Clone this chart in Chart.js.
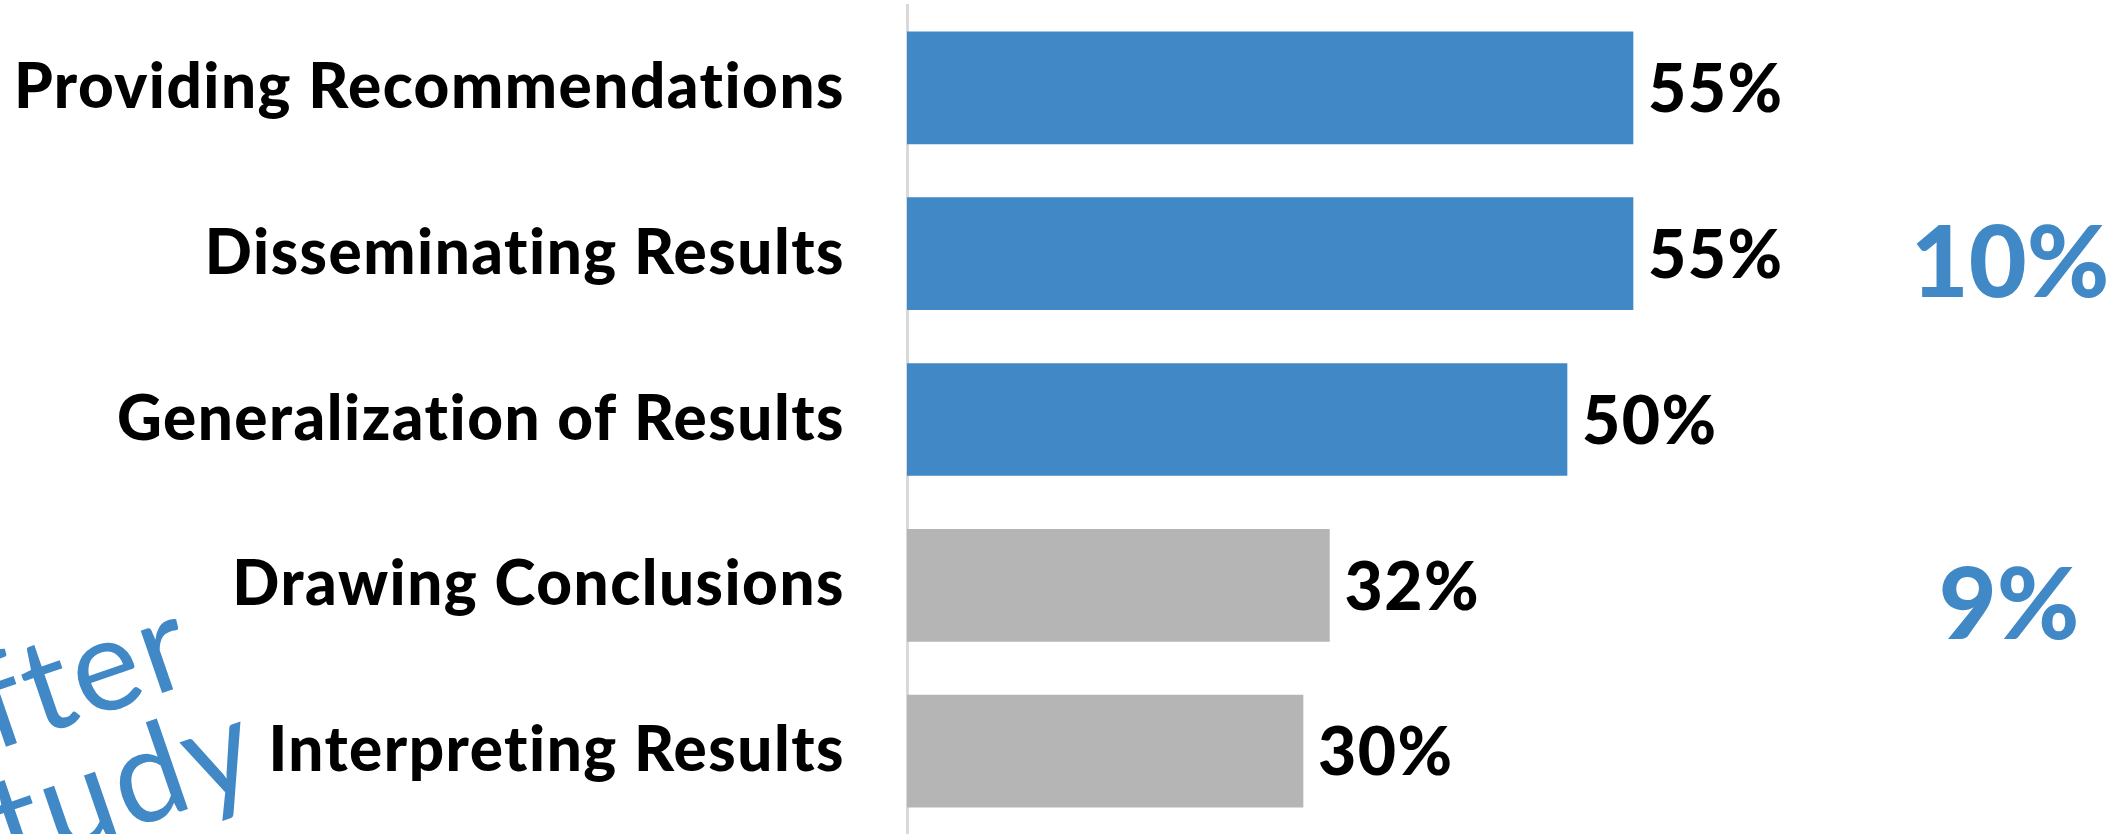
<!DOCTYPE html>
<html>
<head>
<meta charset="utf-8">
<script src="https://cdn.jsdelivr.net/npm/chart.js@4.4.1/dist/chart.umd.min.js"></script>
<style>
    body { margin: 0; background: #fff; }
    canvas { display: block; }
</style>
</head>
<body>
<canvas id="myChart" width="2120" height="834"></canvas>
<script>
// survey steps, top to bottom
const labels = ['Providing Recommendations', 'Disseminating Results', 'Generalization of Results', 'Drawing Conclusions', 'Interpreting Results'];
const values = [55, 55, 50, 32, 30];
// which bars are highlighted in blue
const highlighted = [true, true, true, false, false];
// the two gap numbers on the right
const gapLabels = ['10%', '9%'];

const blue = '#4188c6';
const gray = '#b5b5b5';

// a touch of tracking for all chart text
const spacing = {
    id: 'spacing',
    beforeDraw(chart) {
        chart.ctx.letterSpacing = '1.5px';
    }
};

// percent text at the end of each bar
const valueLabels = {
    id: 'valueLabels',
    afterDatasetsDraw(chart) {
        const ctx = chart.ctx;
        const meta = chart.getDatasetMeta(0);
        ctx.save();
        ctx.font = '900 66px Lato';
        ctx.fillStyle = '#000';
        ctx.textAlign = 'left';
        ctx.textBaseline = 'middle';
        meta.data.forEach(function(bar, i) {
            ctx.fillText(values[i] + '%', bar.x + 15, bar.y + 3);
        });
        ctx.restore();
    }
};

// side notes: the gap figures and the handwritten "After Study"
const notes = {
    id: 'notes',
    afterDraw(chart) {
        const ctx = chart.ctx;
        ctx.save();
        ctx.letterSpacing = '0px';
        ctx.fillStyle = blue;
        ctx.font = '900 100px Lato';
        ctx.textAlign = 'center';
        ctx.textBaseline = 'middle';
        ctx.fillText(gapLabels[0], 2010, 265);
        ctx.fillText(gapLabels[1], 2009, 607);

        ctx.font = '400 130px Lato';
        ctx.letterSpacing = '3px';
        ctx.textAlign = 'left';
        ctx.textBaseline = 'alphabetic';
        ctx.translate(-90, 780);
        ctx.rotate(-19 * Math.PI / 180);
        ctx.fillText('After', 0, 0);
        ctx.fillText('Study', -6, 118);
        ctx.restore();
    }
};

function myChart() {
    const ctx = document.getElementById('myChart');
    new Chart(ctx, {
        type: 'bar',
        data: {
            labels: labels,
            datasets: [{
                data: values,
                backgroundColor: highlighted.map(h => h ? blue : gray),
                borderWidth: 0,
                barThickness: 112
            }]
        },
        options: {
            indexAxis: 'y',
            responsive: false,
            animation: false,
            layout: {
                padding: { top: 5, right: 25, bottom: -4, left: 0 }
            },
            plugins: {
                legend: false,
                tooltip: false
            },
            scales: {
                x: {
                    display: false,
                    min: 0,
                    max: 90
                },
                y: {
                    afterFit: function(scale) {
                        scale.width = 907;
                        scale.paddingTop = 0;
                        scale.paddingBottom = 0;
                    },
                    grid: {
                        drawOnChartArea: false,
                        drawTicks: false
                    },
                    border: {
                        color: '#d9d9d9',
                        width: 3
                    },
                    ticks: {
                        color: '#000',
                        padding: 62,
                        font: { family: 'Lato', weight: '900', size: 62 }
                    }
                }
            }
        },
        plugins: [spacing, valueLabels, notes]
    });
}

document.addEventListener("DOMContentLoaded", function() {
    Promise.all([
        document.fonts.load('900 62px Lato'),
        document.fonts.load('400 130px Lato')
    ]).then(myChart, myChart);
})
</script>
</body>
</html>
